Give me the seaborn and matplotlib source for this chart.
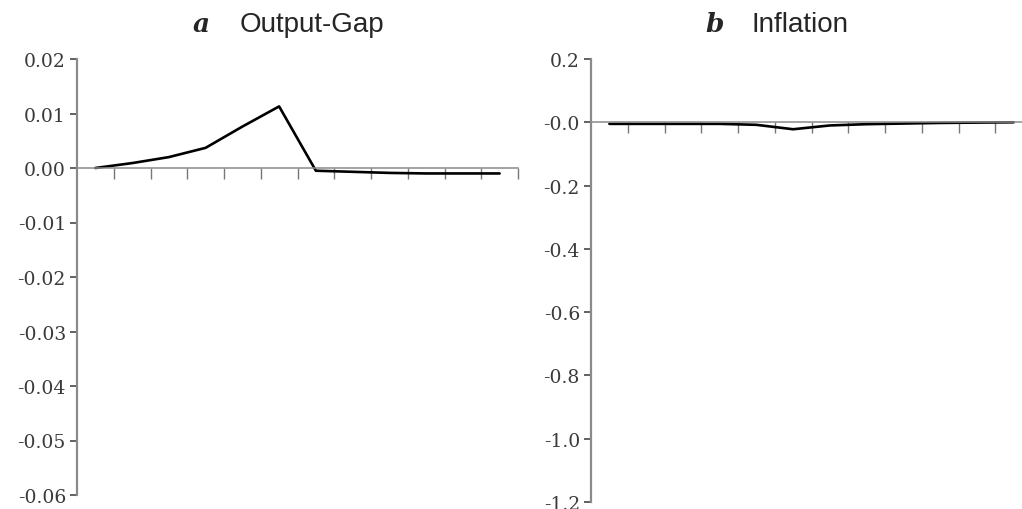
import numpy as np
import pandas as pd
import seaborn as sns
import matplotlib.pyplot as plt

# impulse responses, 12 periods
periods = np.arange(1, 13)
output_gap = [0.0, 0.0009, 0.002, 0.0037, 0.0076, 0.0113,
              -0.0005, -0.0007, -0.0009, -0.001, -0.001, -0.001]
inflation = [-0.005, -0.005, -0.005, -0.005, -0.008, -0.022,
             -0.01, -0.006, -0.004, -0.002, -0.001, 0.0]

gap_ticks = [0.02, 0.01, 0.0, -0.01, -0.02, -0.03, -0.04, -0.05, -0.06]
gap_labels = ["0.02", "0.01", "0.00", "-0.01", "-0.02", "-0.03", "-0.04", "-0.05", "-0.06"]
inf_ticks = [0.2, 0.0, -0.2, -0.4, -0.6, -0.8, -1.0, -1.2]
inf_labels = ["0.2", "-0.0", "-0.2", "-0.4", "-0.6", "-0.8", "-1.0", "-1.2"]

df = pd.DataFrame({"period": periods, "gap": output_gap, "inf": inflation})

sns.set_style("white")
plt.rcParams['font.family'] = ['DejaVu Serif']

fig = plt.figure(figsize=(10.22, 5.1), dpi=100)
ax1 = fig.add_axes([77/1022, 14/510, 441/1022, 436/510])
ax2 = fig.add_axes([591/1022, 7/510, 441/1022, 443/510])

axis_grey = "#8a8a8a"
label_grey = "#3a3a3a"

def style(ax, col, ticks, labels, ylim):
    sns.lineplot(data=df, x="period", y=col, ax=ax, color="black", lw=1.9)
    ax.set_xlim(0.5, 12.5)
    ax.set_ylim(*ylim)
    ax.set_xlabel("")
    ax.set_ylabel("")
    ax.set_yticks(ticks)
    ax.set_yticklabels(labels, fontsize=13.5, color=label_grey)
    ax.set_xticks(np.arange(1.5, 13, 1.0))
    ax.set_xticklabels([])
    for s in ["top", "right"]:
        ax.spines[s].set_visible(False)
    ax.spines["bottom"].set_position(("data", 0))
    ax.spines["left"].set_color(axis_grey)
    ax.spines["left"].set_linewidth(1.6)
    ax.spines["bottom"].set_color(axis_grey)
    ax.spines["bottom"].set_linewidth(1.1)
    ax.tick_params(axis="y", direction="out", length=5, width=1.3, color="#555555", pad=3, left=True)
    ax.tick_params(axis="x", direction="out", length=8, width=1.0, color="#777777", bottom=True)
    ax.patch.set_alpha(0)

style(ax1, "gap", gap_ticks, gap_labels, (-0.06, 0.02))
style(ax2, "inf", inf_ticks, inf_labels, (-1.2, 0.2))

ty = (510 - 32) / 510
fig.text(193/1022, ty, "a", fontsize=19, fontweight="bold", fontstyle="italic",
         family="DejaVu Serif", va="baseline")
fig.text(240/1022, ty, "Output-Gap", fontsize=20, family="Liberation Sans", va="baseline")
fig.text(705/1022, ty, "b", fontsize=19, fontweight="bold", fontstyle="italic",
         family="DejaVu Serif", va="baseline")
fig.text(752/1022, ty, "Inflation", fontsize=20, family="Liberation Sans", va="baseline")

fig.savefig("out.png", dpi=100)
